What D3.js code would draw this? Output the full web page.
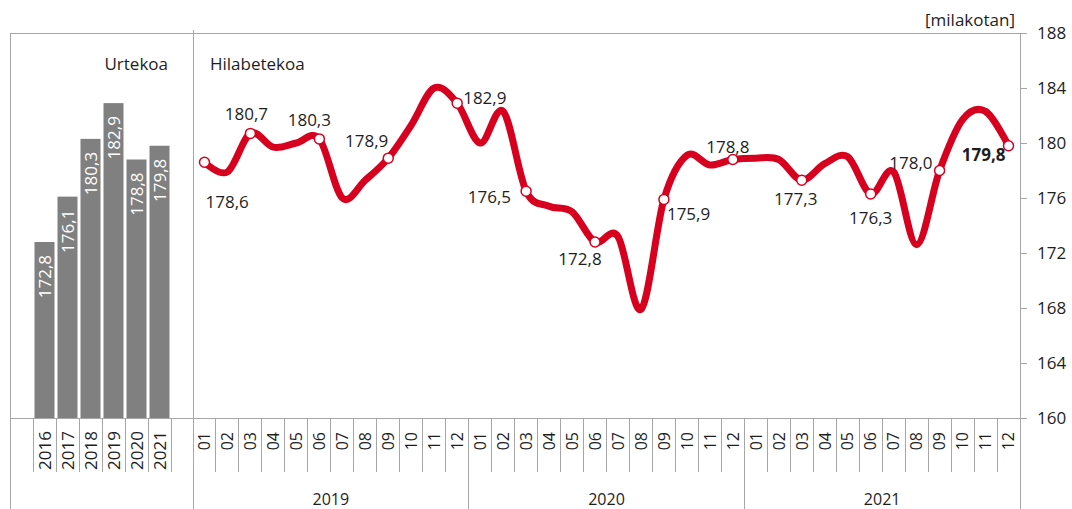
<!DOCTYPE html>
<html lang="eu">
<head>
<meta charset="UTF-8">
<title>Urtekoa / Hilabetekoa</title>
<script src="https://d3js.org/d3.v7.min.js"></script>
<style>
  body { margin: 0; background: #fff; }
  svg { display: block; font-family: "Open Sans", "Noto Sans", sans-serif; }
  .txt { fill: #1e1e1e; }
</style>
</head>
<body>
<svg id="chart" width="1072" height="509"></svg>
<script>
// urteko batezbestekoak
const years = ['2016', '2017', '2018', '2019', '2020', '2021'];
const annual = [172.8, 176.1, 180.3, 182.9, 178.8, 179.8];

// hileko seriea
const monthYears = ['2019', '2020', '2021'];
const months = ['01', '02', '03', '04', '05', '06', '07', '08', '09', '10', '11', '12'];
const monthly = [
  178.6, 177.9, 180.7, 179.7, 180.0, 180.3, 176.0, 177.3, 178.9, 181.3, 184.0, 182.9,
  180.0, 182.3, 176.5, 175.4, 175.0, 172.8, 173.2, 167.9, 175.9, 179.1, 178.4, 178.8,
  178.9, 178.8, 177.3, 178.5, 179.0, 176.3, 177.9, 172.6, 178.0, 181.7, 182.3, 179.8
];
// puntuak eta etiketak dituzten hilabeteak
const marked = [0, 2, 5, 8, 11, 14, 17, 20, 23, 26, 29, 32, 35];
const yTicks = [160, 164, 168, 172, 176, 180, 184, 188];

// etiketen kokapena (dx, dy, anchor)
const labelPos = {
  0: [1, 46, 'start'], 2: [-4, -13, 'middle'], 5: [-10, -13, 'middle'],
  8: [0, -11, 'end'], 11: [6, 1, 'start'], 14: [-15, 12, 'end'],
  17: [-15, 23, 'middle'], 20: [3, 21, 'start'], 23: [-5, -7, 'middle'],
  26: [-6, 25, 'middle'], 29: [0, 30, 'middle'], 32: [-7, -2, 'end'],
  35: [-3, 15, 'end']
};

const fmt = v => d3.format('.1f')(v).replace('.', ',');
const red = '#d7001e';
const gridCol = '#a6a6a6';

const svg = d3.select('#chart');
const topY = 33, baseY = 418, bottomY = 509;
const leftX = 10, dividerX = 193, rightX = 1020;

const y = d3.scaleLinear().domain([160, 188]).range([baseY, topY]);
const xBar = d3.scaleBand().domain(years).range([33, 171]);
const monthKeys = monthYears.flatMap(yr => months.map(m => yr + '-' + m));
const xMonth = d3.scaleBand().domain(monthKeys).range([dividerX, rightX]);
const xYear = d3.scaleBand().domain(monthYears).range([dividerX, rightX]);

// marko lerroak
const frame = svg.append('g').attr('stroke', gridCol).attr('stroke-width', 1).attr('shape-rendering', 'crispEdges');
frame.append('line').attr('x1', leftX).attr('x2', rightX).attr('y1', topY).attr('y2', topY);
frame.append('line').attr('x1', leftX).attr('x2', leftX).attr('y1', topY).attr('y2', bottomY);
frame.append('line').attr('x1', dividerX).attr('x2', dividerX).attr('y1', topY - 3).attr('y2', bottomY);
frame.append('line').attr('x1', rightX).attr('x2', rightX).attr('y1', topY).attr('y2', bottomY);

// barrak
svg.append('g').selectAll('rect')
  .data(years)
  .join('rect')
  .attr('x', d => xBar(d) + 1.5)
  .attr('width', xBar.bandwidth() - 3)
  .attr('y', (d, i) => y(annual[i]))
  .attr('height', (d, i) => baseY - y(annual[i]))
  .attr('fill', '#808080');

svg.append('g').selectAll('text')
  .data(years)
  .join('text')
  .attr('transform', (d, i) => `translate(${xBar(d) + xBar.bandwidth() / 2},${y(annual[i]) + 13}) rotate(-90)`)
  .attr('text-anchor', 'end')
  .attr('dy', '0.36em')
  .attr('fill', '#fff')
  .attr('font-size', 17)
  .text((d, i) => fmt(annual[i]));

// x ardatza
frame.append('line').attr('x1', leftX).attr('x2', rightX + 7).attr('y1', baseY).attr('y2', baseY);

const ticks = svg.append('g').attr('stroke', gridCol).attr('shape-rendering', 'crispEdges');
ticks.selectAll('.bt')
  .data(years)
  .join('line')
  .attr('x1', d => xBar(d)).attr('x2', d => xBar(d))
  .attr('y1', baseY).attr('y2', 472);
ticks.append('line').attr('x1', 171).attr('x2', 171).attr('y1', baseY).attr('y2', 472);
ticks.selectAll('.mt')
  .data(monthKeys.filter((d, i) => i % 12 !== 0))
  .join('line')
  .attr('x1', d => xMonth(d)).attr('x2', d => xMonth(d))
  .attr('y1', baseY).attr('y2', 472);
ticks.selectAll('.yt')
  .data(monthYears.slice(1))
  .join('line')
  .attr('x1', d => xYear(d)).attr('x2', d => xYear(d))
  .attr('y1', baseY).attr('y2', bottomY);

svg.append('g').selectAll('text')
  .data(years)
  .join('text')
  .attr('class', 'txt')
  .attr('transform', d => `translate(${xBar(d) + xBar.bandwidth() / 2},431) rotate(-90)`)
  .attr('text-anchor', 'end')
  .attr('dy', '0.36em')
  .attr('font-size', 17)
  .text(d => d);

svg.append('g').selectAll('text')
  .data(monthKeys)
  .join('text')
  .attr('class', 'txt')
  .attr('transform', d => `translate(${xMonth(d) + xMonth.bandwidth() / 2},432) rotate(-90)`)
  .attr('text-anchor', 'end')
  .attr('dy', '0.36em')
  .attr('font-size', 16)
  .text(d => d.slice(5));

svg.append('g').selectAll('text')
  .data(monthYears)
  .join('text')
  .attr('class', 'txt')
  .attr('x', d => xYear(d) + xYear.bandwidth() / 2)
  .attr('y', 505)
  .attr('text-anchor', 'middle')
  .attr('font-size', 16)
  .text(d => d);

// y ardatza (eskuinean)
const yAxis = svg.append('g')
  .attr('transform', `translate(${rightX},0)`)
  .call(d3.axisRight(y).tickValues(yTicks).tickSize(7).tickPadding(10).tickSizeOuter(0));
yAxis.select('.domain').remove();
yAxis.selectAll('line').attr('stroke', gridCol);
yAxis.attr('font-family', null).attr('font-size', 17);
yAxis.selectAll('text').attr('class', 'txt');

// goiburuak
svg.append('text').attr('class', 'txt').attr('x', 168).attr('y', 70)
  .attr('text-anchor', 'end').attr('font-size', 17).text('Urtekoa');
svg.append('text').attr('class', 'txt').attr('x', 210).attr('y', 70)
  .attr('font-size', 17).text('Hilabetekoa');
svg.append('text').attr('class', 'txt').attr('x', 1015).attr('y', 26)
  .attr('text-anchor', 'end').attr('font-size', 17).text('[milakotan]');

// hileko lerroa
const mx = i => xMonth(monthKeys[i]) + xMonth.bandwidth() / 2;
const line = d3.line()
  .x((d, i) => mx(i))
  .y(d => y(d))
  .curve(d3.curveCardinal.tension(0));

svg.append('path')
  .datum(monthly)
  .attr('d', line)
  .attr('fill', 'none')
  .attr('stroke', red)
  .attr('stroke-width', 7)
  .attr('stroke-linejoin', 'round')
  .attr('stroke-linecap', 'round');

svg.append('g').selectAll('circle')
  .data(marked)
  .join('circle')
  .attr('cx', i => mx(i))
  .attr('cy', i => y(monthly[i]))
  .attr('r', 5)
  .attr('fill', '#fff')
  .attr('stroke', red)
  .attr('stroke-width', 1.5);

svg.append('g').selectAll('text')
  .data(marked)
  .join('text')
  .attr('class', 'txt')
  .attr('x', i => mx(i) + labelPos[i][0])
  .attr('y', i => y(monthly[i]) + labelPos[i][1])
  .attr('text-anchor', i => labelPos[i][2])
  .attr('font-size', 17)
  .attr('font-weight', i => i === 35 ? 'bold' : null)
  .text(i => fmt(monthly[i]));
</script>
</body>
</html>
